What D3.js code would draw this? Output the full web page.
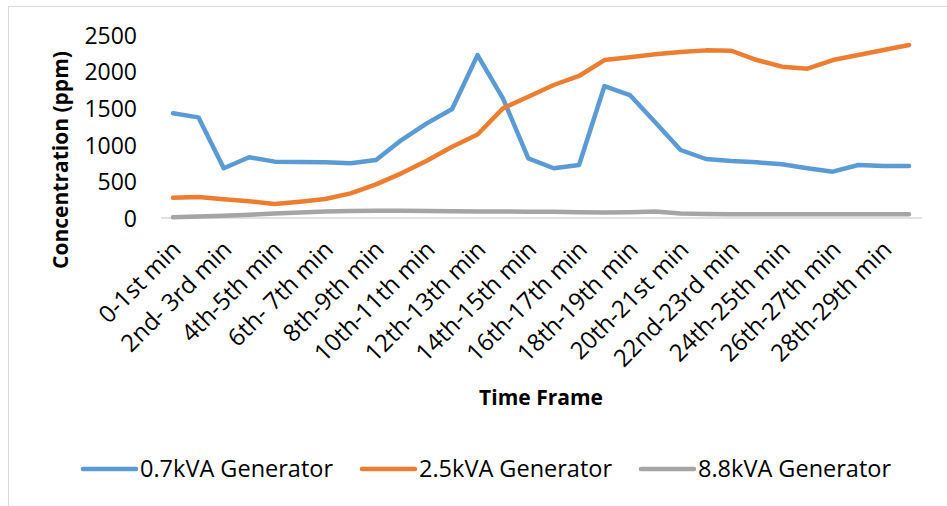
<!DOCTYPE html>
<html>
<head>
<meta charset="utf-8">
<script src="https://cdn.jsdelivr.net/npm/d3@7"></script>
<style>
  body { margin: 0; background: #fff; }
  text { font-family: "Open Sans", "DejaVu Sans", sans-serif; fill: #000; }
</style>
</head>
<body>
<svg id="chart" width="947" height="506"></svg>
<script>
const categories = [
  "0-1st min", "1st-2nd min", "2nd- 3rd min", "3rd-4th min", "4th-5th min", "5th-6th min",
  "6th- 7th min", "7th-8th min", "8th-9th min", "9th-10th min", "10th-11th min", "11th-12th min",
  "12th-13th min", "13th-14th min", "14th-15th min", "15th-16th min", "16th-17th min", "17th-18th min",
  "18th-19th min", "19th-20th min", "20th-21st min", "21st-22nd min", "22nd-23rd min", "23rd-24th min",
  "24th-25th min", "25th-26th min", "26th-27th min", "27th-28th min", "28th-29th min", "29th-30th min"
];
const gen07 = [1430, 1375, 680, 830, 770, 765, 762, 748, 792, 1065, 1293, 1489, 2225, 1635, 815, 680,
  724, 1803, 1680, 1307, 929, 806, 779, 761, 733, 680, 633, 724, 710, 710];
const gen25 = [277, 287, 255, 230, 191, 223, 260, 337, 460, 610, 783, 974, 1140, 1498, 1657, 1817,
  1940, 2158, 2195, 2236, 2268, 2290, 2285, 2158, 2067, 2040, 2158, 2227, 2295, 2363];
const gen88 = [10, 20, 30, 45, 60, 75, 88, 97, 100, 98, 95, 92, 90, 88, 87, 84,
  78, 75, 80, 90, 60, 55, 52, 52, 52, 52, 52, 52, 52, 52];
const seriesNames = ["0.7kVA Generator", "2.5kVA Generator", "8.8kVA Generator"];
const seriesColors = ["#5B9BD5", "#ED7D31", "#A5A5A5"];
const yTicks = [0, 500, 1000, 1500, 2000, 2500];

const series = [gen07, gen25, gen88];
const svg = d3.select("#chart");

// outer chart border (cut off at right/bottom)
svg.append("rect").attr("x", 8.5).attr("y", 6.5).attr("width", 1000).attr("height", 1000)
  .attr("fill", "none").attr("stroke", "#d9d9d9").attr("stroke-width", 1);

const x = d3.scalePoint().domain(categories).range([173, 909]);
const y = d3.scaleLinear().domain([0, 2500]).range([218, 35]);

// baseline
svg.append("line").attr("x1", 161).attr("x2", 922).attr("y1", y(0)).attr("y2", y(0))
  .attr("stroke", "#d9d9d9").attr("stroke-width", 1.5);

// y axis
const yAxis = d3.axisLeft(y).tickValues(yTicks).tickSize(0).tickPadding(0).tickFormat(d3.format("d"));
const yg = svg.append("g").attr("transform", "translate(137,0)").call(yAxis);
yg.select(".domain").remove();
yg.selectAll("text").style("font-size", "23px").style("font-family", "'Open Sans', sans-serif")
  .attr("fill", "#000").attr("dy", "0.36em");

// x axis
const xAxis = d3.axisBottom(x).tickSize(0).tickPadding(0)
  .tickFormat((d, i) => (i % 2 === 0 ? d : ""));
const xg = svg.append("g").attr("transform", `translate(0,${y(0)})`).call(xAxis);
xg.select(".domain").remove();
xg.selectAll("text")
  .style("font-size", "24px").style("font-family", "'Open Sans', sans-serif")
  .attr("fill", "#000")
  .attr("text-anchor", "end")
  .attr("dy", 0).attr("y", 0)
  .attr("transform", "translate(9,33) rotate(-45)");

// lines
const line = d3.line().x((d, i) => x(categories[i])).y(d => y(d));
series.forEach((s, k) => {
  svg.append("path").datum(s).attr("d", line)
    .attr("fill", "none").attr("stroke", seriesColors[k]).attr("stroke-width", 4.5)
    .attr("stroke-linejoin", "round").attr("stroke-linecap", "round");
});

// axis titles
svg.append("text").attr("transform", "translate(68,160) rotate(-90)")
  .attr("text-anchor", "middle").style("font-size", "21px").style("font-weight", "bold")
  .text("Concentration (ppm)");
svg.append("text").attr("x", 541).attr("y", 405)
  .attr("text-anchor", "middle").style("font-size", "21px").style("font-weight", "bold")
  .text("Time Frame");

// legend
const legendX = [83, 362, 641];
seriesNames.forEach((n, k) => {
  const g = svg.append("g").attr("transform", `translate(${legendX[k]},469)`);
  g.append("line").attr("x1", 0).attr("x2", 53).attr("y1", 0).attr("y2", 0)
    .attr("stroke", seriesColors[k]).attr("stroke-width", 4.5).attr("stroke-linecap", "round");
  g.append("text").attr("x", 57).attr("y", 0).attr("dy", "0.36em")
    .style("font-size", "23.5px").text(n);
});
</script>
</body>
</html>
